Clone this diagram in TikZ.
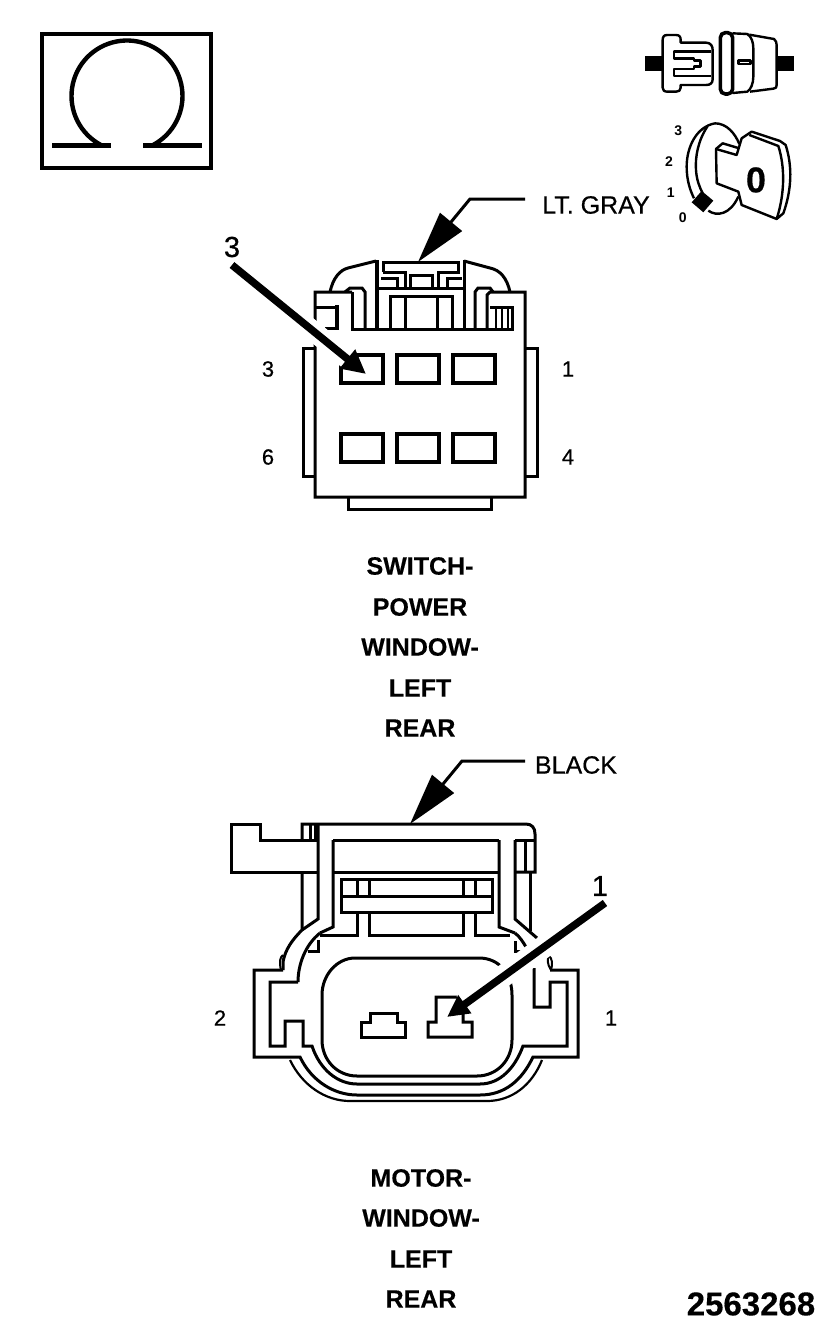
\documentclass[tikz,border=0pt]{standalone}
\usepackage{fontspec}
\setmainfont{Liberation Sans}
\newfontfamily\heavyfont[FakeBold=0.5]{Liberation Sans}
\newfontfamily\titlefont[FakeBold=0.3]{Liberation Sans Bold}
\usetikzlibrary{arrows.meta}
\tikzset{
  ln/.style={line width=3pt,line join=miter,draw=black},
  thin2/.style={line width=2.4pt,draw=black,line join=round},
  ttl/.style={font=\fontsize{25}{25}\titlefont,inner sep=0pt,anchor=center},
  lbl/.style={font=\fontsize{25}{25}\heavyfont,inner sep=0pt,anchor=center},
  num/.style={font=\fontsize{22}{22}\heavyfont,inner sep=0pt,anchor=center},
  bignum/.style={font=\fontsize{29}{29}\heavyfont,inner sep=0pt,anchor=center},
  keynum/.style={font=\fontsize{14}{14}\selectfont\bfseries,inner sep=0pt,anchor=center},
  halo/.style={white,line width=#1},
  ptr/.style={line width=7.5pt,draw=black,-{Triangle[length=24pt,width=23pt]}},
  leader/.style={line width=3pt,draw=black,line join=miter,-{Triangle[length=52pt,width=28pt]}}
}
\begin{document}
\begin{tikzpicture}[x=1pt,y=-1pt]
\useasboundingbox (0,0) rectangle (833,1333);
\fill[white] (0,0) rectangle (833,1333);

% Omega box
\draw[line width=4.4pt] (42,34) rectangle (211,168);
\draw[line width=4.4pt] plot[smooth,samples=70,domain=118:422] ({127+55.5*cos(\x)},{96+55.5*sin(\x)});
\draw[line width=5pt] (52,145) -- (111,145) (143,145) -- (202,145);

% Plug icon and key icon, in coordinates of a 3x crop
\begin{scope}[shift={(620,20)},x=0.3333pt,y=-0.3333pt]
\fill (75,108) rectangle (128,152);
\fill (470,108) rectangle (522,152);
\draw[thin2] (128,60) .. controls (128,50) and (132,45) .. (142,45) -- (168,45)
  .. controls (178,45) and (182,50) .. (182,60) -- (182,68) -- (258,68)
  .. controls (272,68) and (278,78) .. (278,90) -- (278,178) .. controls (278,190) and (270,195) .. (258,195)
  -- (182,195) -- (182,203) .. controls (182,212) and (176,215) .. (168,215) -- (142,215)
  .. controls (132,215) and (128,210) .. (128,203) -- cycle;
\draw[thin2] (272,95) -- (162,95) -- (162,115) -- (222,115) -- (222,122) -- (242,122) -- (242,140)
  -- (222,140) -- (222,147) -- (162,147) -- (162,168) -- (272,168);
\draw[line width=3.6pt,rounded corners=5pt] (301,38) rectangle (338,222);
\draw[thin2] (338,40) -- (382,42) .. controls (395,50) and (400,68) .. (400,85) -- (400,170)
  .. controls (400,190) and (393,208) .. (382,215) -- (338,219);
\draw[thin2] (388,44) -- (462,57) .. controls (468,62) and (470,68) .. (470,75) -- (470,195)
  .. controls (470,203) and (468,205) .. (460,206) -- (390,215);
\draw[thin2] (356,121) rectangle (391,132);
% key
\draw[thin2] (285,310) .. controls (230,320) and (200,380) .. (200,440) .. controls (200,480) and (210,510) .. (222,535);
\draw[thin2] (285,310) .. controls (320,310) and (345,340) .. (358,372);
\draw[thin2] (262,320) .. controls (235,360) and (225,410) .. (228,450) .. controls (230,480) and (238,500) .. (248,520);
\draw[thin2] (265,572) .. controls (290,590) and (330,585) .. (355,530);
\draw[thin2] (288,387) -- (290,490) -- (355,515) -- (365,555) -- (470,597) -- (490,580)
  .. controls (515,510) and (518,440) .. (497,375) -- (480,363) -- (395,335) -- (365,355) -- (350,405) -- cycle;
\draw[thin2] (288,387) -- (308,370) -- (358,385);
\draw[thin2] (388,345) -- (475,378) .. controls (495,440) and (495,520) .. (470,597);
\fill (245,513) -- (280,542) -- (250,577) -- (215,547) -- cycle;
\node[keynum] (k3) at (175,332) {3};
\node[keynum] (k2) at (147,425) {2};
\node[keynum] (k1) at (152,517) {1};
\node[keynum] (k0) at (188,592) {0};
\node[font=\fontsize{36}{36}\titlefont,inner sep=0pt] (k) at (408,480) {0};
\end{scope}

% Upper connector
\draw[ln] (352,292) -- (315,292) -- (315,497) -- (525,497) -- (525,292) -- (490,292) -- (487,295) -- (487,329);
\draw[ln] (348,497) -- (348,509) -- (491,509) -- (491,497);
\draw[ln] (315,348) -- (303,348) -- (303,476) -- (315,476);
\draw[ln] (525,348) -- (537,348) -- (537,476) -- (525,476);
\foreach \cx in {341,397,453} \foreach \cy in {355,434}
  \draw[line width=3.4pt] (\cx,\cy) rectangle +(42,28);
\draw[ln] (352,292) -- (352,329) -- (512,329) -- (512,307) -- (490,307);
\draw[ln] (315,307) -- (338,307);
\draw[line width=4.8pt] (337,305) -- (337,330);
\draw[ln] (325,328) -- (338,328);
\draw[line width=2.4pt] (496,307) -- (496,329) (502,307) -- (502,329) (508,307) -- (508,329);
\draw[ln] (330,292) .. controls (333,278) and (340,270) .. (348,268) -- (376,261);
\draw[ln] (510,292) .. controls (507,278) and (500,270) .. (490,268) -- (464,261);
\draw[line width=4.8pt] (377,260) -- (377,329);
\draw[ln] (464,260) -- (464,329);
\draw[ln] (345,292) -- (350,288) -- (362,288) -- (365,292) -- (365,329);
\draw[ln] (475,329) -- (475,292) -- (478,288) -- (490,288) -- (493,292);
\draw[ln] (383,272) -- (383,262) -- (458,262) -- (458,272) -- (438,272) -- (438,288);
\draw[ln] (383,272) -- (405,272) -- (405,288);
\draw[ln] (410,288) -- (410,275) -- (432,275) -- (432,288);
\draw[ln] (381,278) -- (397,278) -- (397,288);
\draw[ln] (447,288) -- (447,278) -- (462,278);
\draw[ln] (378,288) -- (463,288);
\draw[ln] (390,329) -- (390,296) -- (452,296) -- (452,329);
\draw[ln] (405,296) -- (405,329) (437,296) -- (437,329);

% Lower connector
\draw[ln] (318,872) -- (231,872) -- (231,824) -- (260,824) -- (260,840) -- (318,840);
\draw[ln] (302,840) -- (302,824) -- (526,824) .. controls (532,824) and (535,828) .. (535,834) -- (535,872) -- (515,872);
\draw[ln] (310,824) -- (310,840) (315,824) -- (315,840);
\draw[ln] (318,824) -- (318,919) -- (302,930);
\draw[ln] (333,872) -- (499,872);
\draw[ln] (333,840) -- (499,840);
\draw[ln] (333,840) -- (333,927) -- (320,933);
\draw[ln] (499,840) -- (499,927) -- (515,933);
\draw[ln] (302,872) -- (302,930) .. controls (292,940) and (285,950) .. (283,962) -- (283,970);
\draw[ln] (320,933) .. controls (305,945) and (298,965) .. (298,982);
\draw[ln] (515,933) .. controls (520,937) and (523,942) .. (526,947);
\draw[ln] (515,840) -- (515,919) -- (537,938);
\draw[ln] (530,872) -- (530,931);
\draw[ln] (515,840) -- (535,840);
\draw[ln] (525,840) -- (525,872);
\draw[ln] (341,879) rectangle (492,912);
\draw[ln] (341,896) -- (492,896);
\draw[ln] (357,879) -- (357,896) (369,879) -- (369,896) (463,879) -- (463,896) (475,879) -- (475,896);
\draw[ln] (369,912) -- (369,935) -- (463,935) -- (463,912);
\draw[ln] (357,912) -- (357,935) -- (320,935);
\draw[ln] (475,912) -- (475,935) -- (510,935);
\draw[ln] (318,940) -- (318,951) -- (308,951);
\draw[ln] (515,941) -- (515,951) -- (525,951);
% outer frame
\draw[ln] (283,970) -- (254,970) -- (254,1057) -- (300,1057)
  .. controls (312,1082) and (335,1095) .. (357,1095) -- (480,1095)
  .. controls (505,1095) and (522,1080) .. (533,1057) -- (578,1057) -- (578,970) -- (550,970);
\draw[ln] (298,982) -- (270,982) -- (270,1046) -- (285,1046) -- (285,1021) -- (303,1021) -- (303,1046) -- (312,1046)
  .. controls (320,1070) and (338,1084) .. (357,1084) -- (480,1084)
  .. controls (500,1084) and (515,1068) .. (523,1046) -- (567,1046) -- (567,982) -- (550,982)
  -- (550,1007) -- (534,1007) -- (534,968);
\draw[line width=2.2pt] (290,1060) .. controls (302,1085) and (325,1101) .. (350,1101) -- (487,1101)
  .. controls (512,1101) and (532,1085) .. (542,1060);
\draw[line width=2pt] (281,970) .. controls (279,962) and (280,957) .. (283,955);
\draw[line width=2pt] (551,970) .. controls (553,964) and (552,958) .. (549,956) .. controls (547,958) and (547,964) .. (551,970);
\draw[ln] (355,958) -- (479,958) .. controls (500,958) and (512,975) .. (512,995) -- (512,1040)
  .. controls (512,1060) and (497,1076) .. (477,1076) -- (357,1076)
  .. controls (337,1076) and (322,1060) .. (322,1040) -- (322,995)
  .. controls (322,975) and (337,958) .. (355,958) -- cycle;
\draw[ln] (361,1037) -- (361,1022) -- (370,1022) -- (370,1013) -- (397,1013) -- (397,1022) -- (405,1022) -- (405,1037) -- cycle;
\draw[ln] (428,1037) -- (428,1022) -- (436,1022) -- (436,997) -- (458,997) -- (463,1013) -- (463,1022) -- (472,1022) -- (472,1037) -- cycle;

% Leaders and pointers
\coordinate (ga) at (525,199);
\coordinate (gb) at (470,199);
\coordinate (gt) at (418,262);
\coordinate (ba) at (525,761);
\coordinate (bb) at (462,761);
\coordinate (bt) at (410,824);
\coordinate (a3s) at (232,265);
\coordinate (a3m) at (350,361);
\coordinate (a3t) at (366,374);
\coordinate (a1s) at (605,903);
\coordinate (a1m) at (463,1005);
\coordinate (a1t) at (447,1017);
\draw[halo=20pt] (a3s) -- (a3m);
\draw[halo=22pt] (a1s) -- (a1m);
\draw[ptr] (a3s) -- (a3t);
\draw[ptr,-{Triangle[length=22pt,width=21pt]}] (a1s) -- (a1t);
\draw[leader] (ga) -- (gb) -- (gt);
\draw[leader] (ba) -- (bb) -- (bt);

% Text
\node[lbl] (gray) at (596,205) {LT. GRAY};
\node[lbl] (black) at (576,765) {BLACK};
\node[bignum] (n3) at (232,247) {3};
\node[bignum] (n1) at (600,886) {1};
\node[num] (p3) at (268,369) {3};
\node[num] (p1) at (568,369) {1};
\node[num] (p6) at (268,457) {6};
\node[num] (p4) at (568,457) {4};
\node[num] (m2) at (220,1018) {2};
\node[num] (m1) at (611,1018) {1};
\node[ttl] (t1) at (420,566) {SWITCH-};
\node[ttl] (t2) at (420,607) {POWER};
\node[ttl] (t3) at (420,647) {WINDOW-};
\node[ttl] (t4) at (420,688) {LEFT};
\node[ttl] (t5) at (420,728) {REAR};
\node[ttl] (b1) at (421,1178) {MOTOR-};
\node[ttl] (b2) at (421,1218) {WINDOW-};
\node[ttl] (b3) at (421,1259) {LEFT};
\node[ttl] (b4) at (421,1299) {REAR};
\node[font=\fontsize{33}{33}\titlefont,inner sep=0pt] (id) at (751,1304) {2563268};
\end{tikzpicture}
\end{document}
